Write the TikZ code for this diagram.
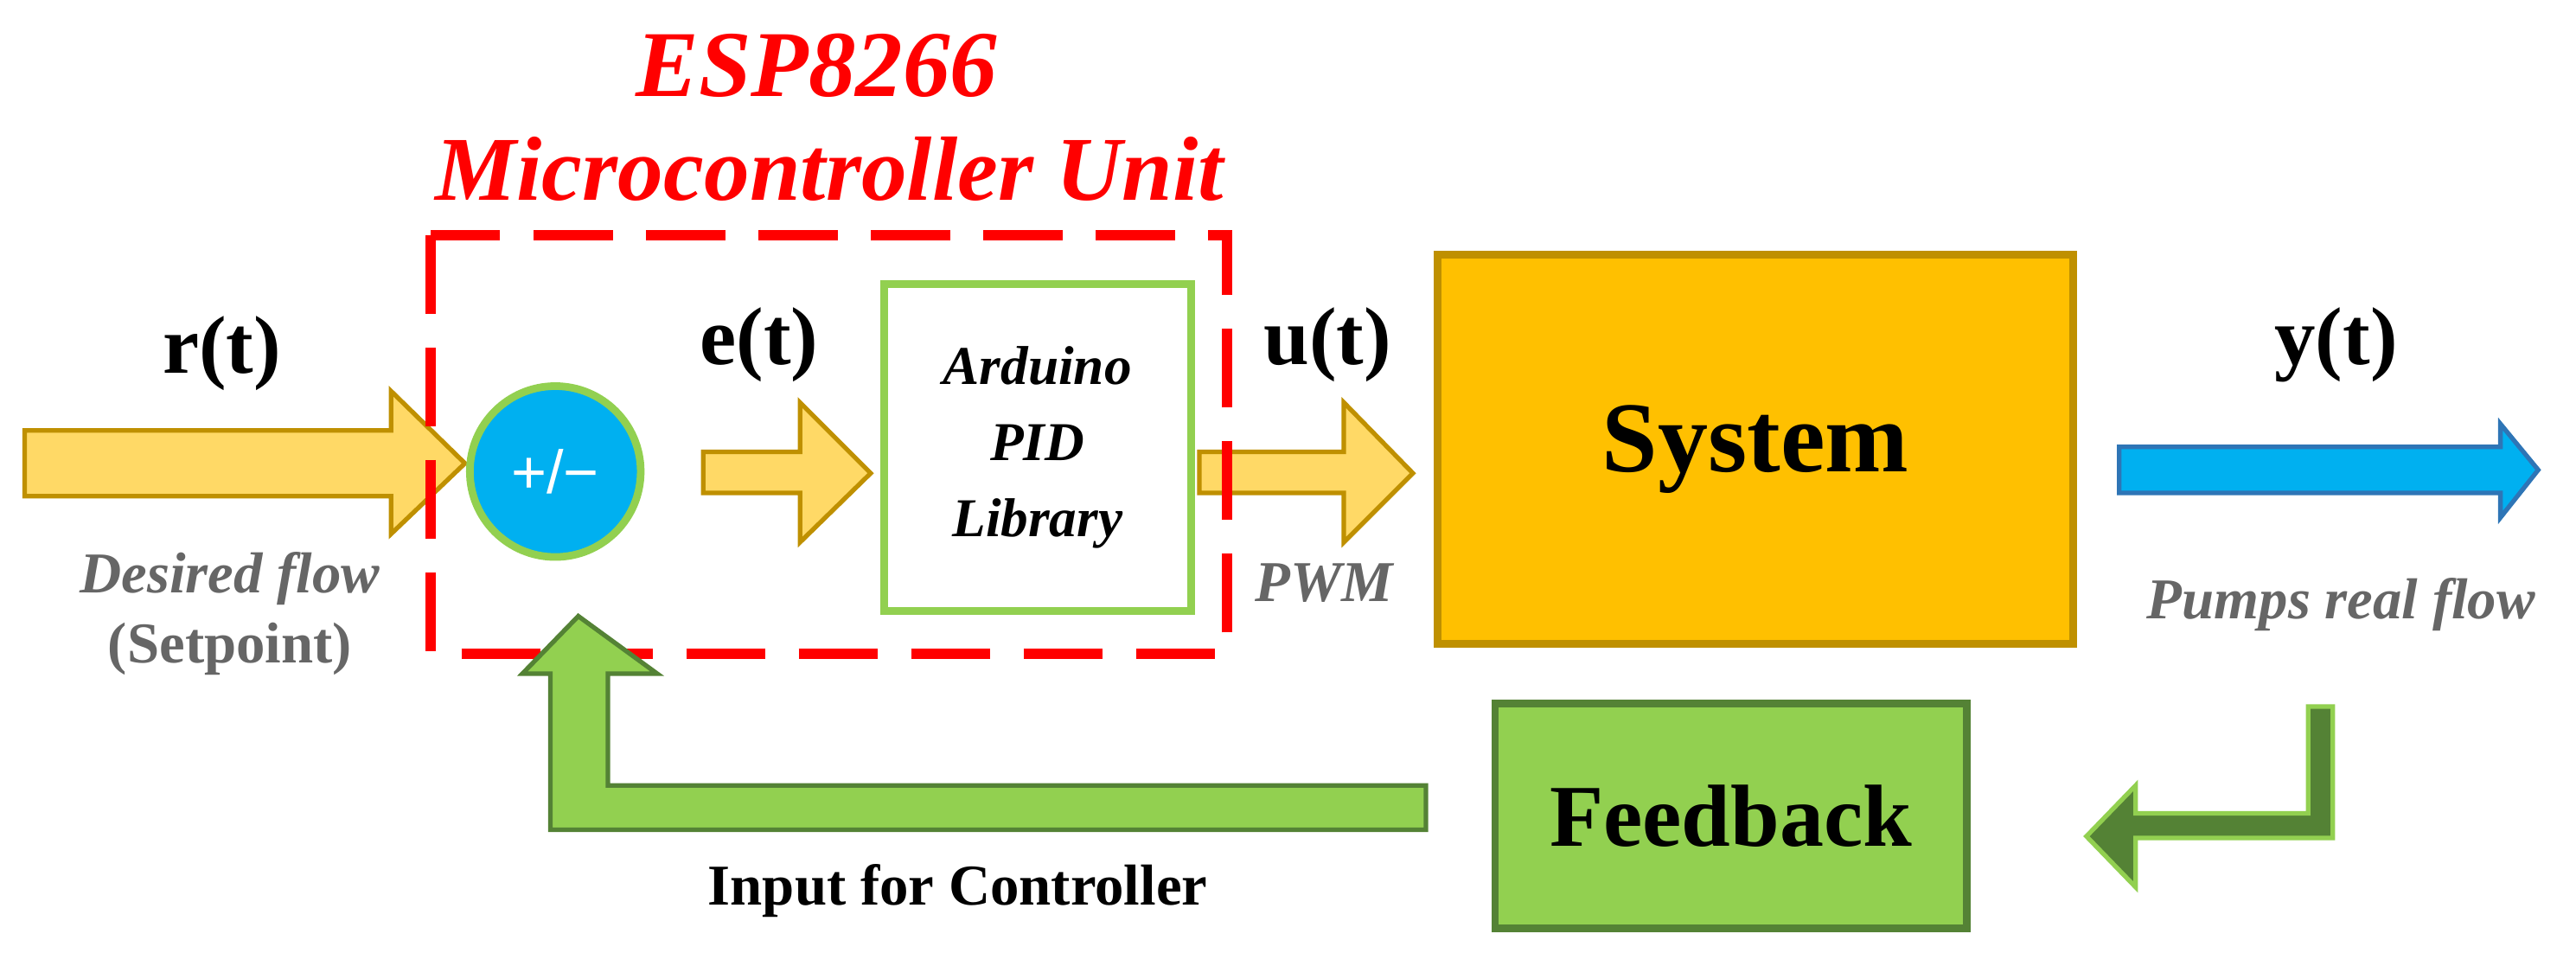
\documentclass[tikz,border=0pt]{standalone}
\usepackage{fontspec}
\setmainfont{Liberation Serif}
\newfontfamily\sansf{Liberation Sans}
\begin{document}
\begin{tikzpicture}[x=0.019cm,y=-0.019cm,
    lbl/.style={font=\fontsize{27}{30}\selectfont\bfseries},
    note/.style={font=\fontsize{19}{22}\selectfont\bfseries\itshape,text=gray!80!black},
    yarrow/.style={fill=yellowfill,draw=goldline,line width=1.5pt,line join=miter}]
    \definecolor{yellowfill}{RGB}{255,217,102}
    \definecolor{goldline}{RGB}{191,144,0}
    \definecolor{sysfill}{RGB}{255,192,0}
    \definecolor{cyanfill}{RGB}{0,176,240}
    \definecolor{bluedark}{RGB}{46,117,182}
    \definecolor{lgreen}{RGB}{146,208,80}
    \definecolor{dgreen}{RGB}{84,130,53}
    \useasboundingbox (0,0) rectangle (1568,580);
    % input arrows
    \draw[yarrow] (15,262) -- (238,262) -- (238,238) -- (283,282) -- (238,325) -- (238,302) -- (15,302) -- cycle;
    \draw[yarrow] (428,275) -- (487,275) -- (487,245) -- (530,288) -- (487,330) -- (487,300) -- (428,300) -- cycle;
    \draw[yarrow] (730,275) -- (818,275) -- (818,245) -- (860,288) -- (818,330) -- (818,300) -- (730,300) -- cycle;
    \draw[fill=cyanfill,draw=bluedark,line width=1.5pt] (1290,272) -- (1522,272) -- (1522,258) -- (1545,286) -- (1522,315) -- (1522,300) -- (1290,300) -- cycle;
    % controller
    \draw[red,line width=3.5pt,dash pattern=on 26pt off 11pt] (262,143) rectangle (747,398);
    \node[circle,fill=cyanfill,draw=lgreen,line width=2.5pt,minimum size=104*0.019cm,text=white,font=\sansf\fontsize{20}{22}\selectfont] (sum) at (338,287) {+/\textminus};
    \node[draw=lgreen,line width=2.5pt,fill=white,minimum width=187*0.019cm,minimum height=199*0.019cm,align=center,font=\fontsize{18}{25}\selectfont\bfseries\itshape] (pid) at (631.5,272.5) {Arduino\\PID\\Library};
    \node[draw=goldline,fill=sysfill,line width=2.5pt,minimum width=387*0.019cm,minimum height=237*0.019cm,font=\fontsize{33}{36}\selectfont\bfseries] (sys) at (1068.5,273.5) {System};
    \node[draw=dgreen,fill=lgreen,line width=2.5pt,minimum width=287*0.019cm,minimum height=137*0.019cm,font=\fontsize{29}{32}\selectfont\bfseries] (fb) at (1053.5,496.5) {Feedback};
    % feedback arrows
    \draw[fill=dgreen,draw=lgreen,line width=1.5pt] (1405,430) -- (1420,430) -- (1420,510) -- (1300,510) -- (1300,540) -- (1270,509) -- (1300,478) -- (1300,495) -- (1405,495) -- cycle;
    \draw[fill=lgreen,draw=dgreen,line width=1.5pt] (868,478) -- (868,505) -- (335,505) -- (335,410) -- (318,410) -- (352,375) -- (400,410) -- (370,410) -- (370,478) -- cycle;
    % labels
    \node[lbl] (r) at (135,215) {r(t)};
    \node[lbl] (e) at (462,210) {e(t)};
    \node[lbl] (u) at (808,210) {u(t)};
    \node[lbl] (y) at (1422,210) {y(t)};
    \node[red,font=\fontsize{31}{34}\selectfont\bfseries\itshape] (esp) at (497,40) {ESP8266};
    \node[red,font=\fontsize{30}{34}\selectfont\bfseries\itshape] (mcu) at (505,103) {Microcontroller Unit};
    \node[note] (des) at (140,352) {Desired flow};
    \node[note,font=\fontsize{19}{22}\selectfont\bfseries] (set) at (140,395) {(Setpoint)};
    \node[note] (pwm) at (806,355) {PWM};
    \node[note] (pump) at (1425,368) {Pumps real flow};
    \node[font=\fontsize{19}{22}\selectfont\bfseries] (inp) at (583,542) {Input for Controller};
\end{tikzpicture}
\end{document}
